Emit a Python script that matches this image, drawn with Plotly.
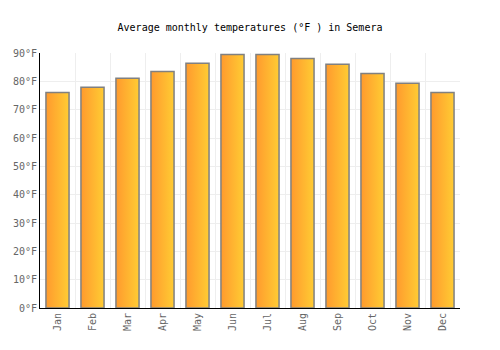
import plotly.graph_objects as go

months = ["Jan", "Feb", "Mar", "Apr", "May", "Jun", "Jul", "Aug", "Sep", "Oct", "Nov", "Dec"]
temps_f = [76.1, 77.9, 81.1, 83.5, 86.4, 89.5, 89.5, 88.1, 86.0, 82.8, 79.3, 76.1]

half = 0.33
fig = go.Figure()
for i, (m, v) in enumerate(zip(months, temps_f)):
    fig.add_trace(go.Scatter(
        x=[i - half, i - half, i + half, i + half, i - half],
        y=[0, v, v, 0, 0],
        mode="lines",
        fill="toself",
        fillgradient=dict(type="horizontal", start=i - half, stop=i + half,
                          colorscale=[[0, "#ff9a2e"], [1, "#ffcc33"]]),
        line=dict(color="#808080", width=1.5),
        name=m,
        hoverinfo="text",
        text=f"{m}: {v}°F",
        showlegend=False,
    ))

fig.update_layout(
    width=500, height=350,
    margin=dict(l=40, r=40, t=53, b=42),
    paper_bgcolor="white", plot_bgcolor="white",
    title=dict(text="Average monthly temperatures (°F ) in Semera",
               x=0.5, xanchor="center", y=0.922, yanchor="middle",
               font=dict(family="DejaVu Sans Mono", size=10, color="#000")),
    font=dict(family="DejaVu Sans Mono", size=10, color="#666"),
    xaxis=dict(range=[-0.5, 11.5], tickvals=list(range(12)), ticktext=months,
               tickangle=-90, showgrid=False, zeroline=False,
               showline=True, linecolor="#000", linewidth=1,
               ticks="", ticklen=0,
               minor=dict(tick0=-0.5, dtick=1, showgrid=True,
                          gridcolor="#eeeeee", gridwidth=1, ticks=""),
               fixedrange=True),
    yaxis=dict(range=[0, 90], dtick=10, ticksuffix="°F",
               showgrid=True, gridcolor="#eeeeee", gridwidth=1,
               zeroline=False, showline=True, linecolor="#000", linewidth=1,
               ticks="", fixedrange=True),
)

fig.write_html("out.html")
